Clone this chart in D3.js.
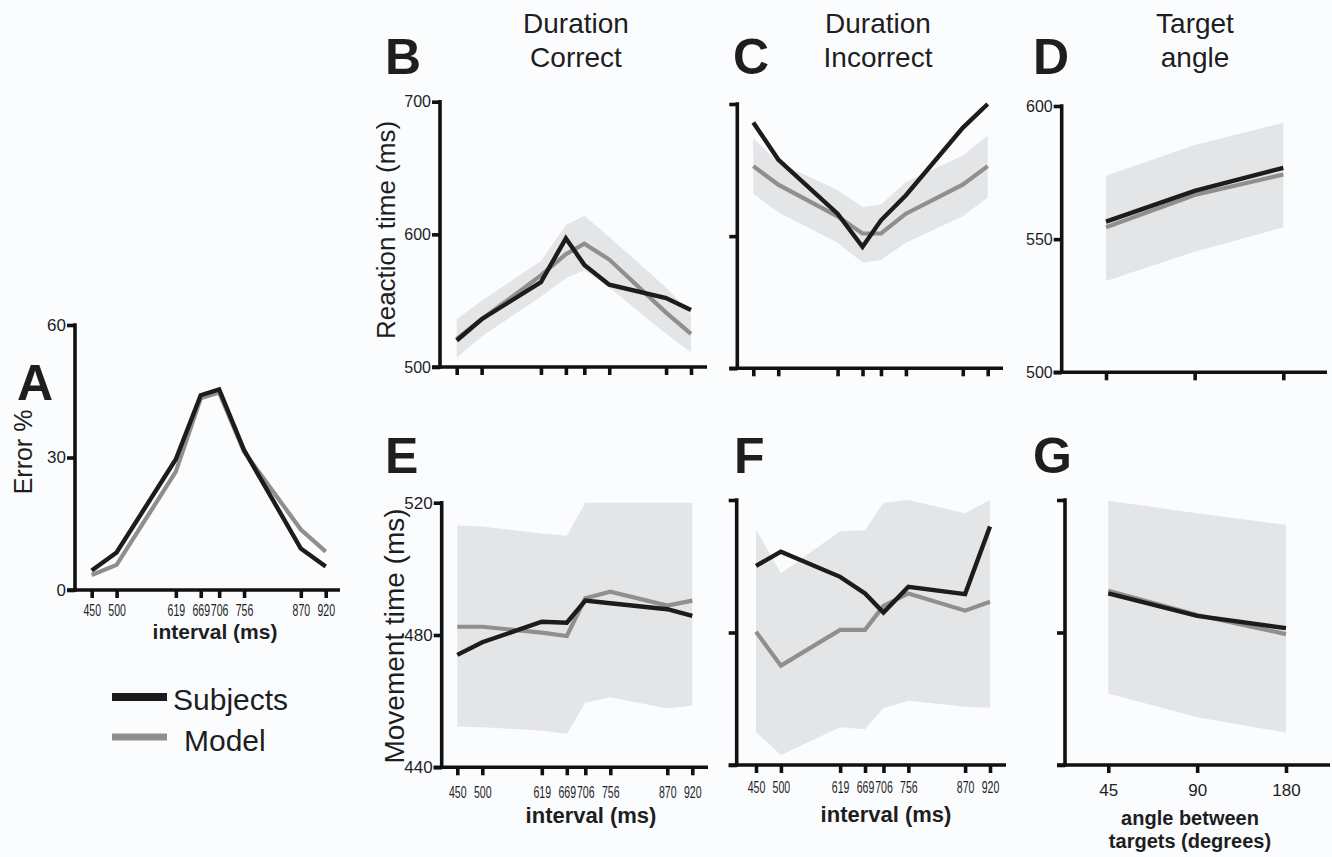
<!DOCTYPE html>
<html>
<head>
<meta charset="utf-8">
<script src="https://cdn.jsdelivr.net/npm/d3@7/dist/d3.min.js"></script>
<style>
  html, body { margin: 0; padding: 0; background: #fbfcfe; }
  svg { display: block; }
  text { font-family: "Liberation Sans", Arial, Helvetica, sans-serif; fill: #1e1e1e; }
</style>
</head>
<body>
<svg id="chart" width="1332" height="857"></svg>
<script>
// ---------------- DATA ----------------
const intervals = [450, 500, 619, 669, 706, 756, 870, 920];
const angles = ["45", "90", "180"];

// A: error %
const errSubjects = [4.4, 8.5, 29.6, 44.1, 45.4, 31.7, 9.4, 5.3];
const errModel    = [3.4, 5.7, 26.8, 43.4, 44.7, 31.3, 13.7, 8.7];

// B: reaction time, duration correct
const rtCorrSubjects = [520, 536, 564, 597, 577, 562, 552, 543];
const rtCorrModel    = [521, 536, 569, 585, 593, 581, 541, 525];
const rtCorrUpper    = [536, 550, 580, 607, 614, 598, 560, 540];
const rtCorrLower    = [507, 523, 553, 567, 573, 560, 525, 511];

// C: reaction time, duration incorrect
const rtIncSubjects = [686, 658, 617, 592, 612, 631, 682, 700];
const rtIncModel    = [653, 639, 615, 602, 602, 617, 639, 653];
const rtIncUpper    = [674, 656, 635, 622, 624, 641, 661, 676];
const rtIncLower    = [632, 618, 595, 580, 582, 595, 615, 629];

// D: reaction time vs target angle
const rtAngSubjects = [556.6, 568.1, 576.8];
const rtAngModel    = [554.5, 566.6, 574.3];
const rtAngUpper    = [573.8, 585.4, 593.7];
const rtAngLower    = [534.3, 545.3, 554.4];

// E: movement time, duration correct
const mtCorrSubjects = [474.0, 477.8, 484.0, 483.7, 490.4, 489.6, 487.8, 485.8];
const mtCorrModel    = [482.5, 482.5, 480.7, 479.7, 491.1, 493.1, 488.9, 490.4];
const mtCorrUpper    = [513.1, 512.8, 510.7, 510.0, 520.0, 520.0, 520.0, 520.0];
const mtCorrLower    = [452.3, 452.1, 451.1, 450.1, 459.5, 461.2, 457.8, 458.7];

// F: movement time, duration incorrect
const mtIncSubjects = [500.1, 504.4, 496.8, 491.8, 486.0, 493.8, 491.6, 512.0];
const mtIncModel    = [480.2, 470.0, 480.8, 480.8, 488.0, 491.8, 486.6, 489.3];
const mtIncUpper    = [511.2, 497.9, 510.6, 510.9, 519.2, 520.0, 516.0, 520.0];
const mtIncLower    = [449.9, 443.0, 451.4, 450.8, 457.1, 459.4, 457.6, 457.3];

// G: movement time vs target angle
const mtAngSubjects = [491.8, 485.0, 481.3];
const mtAngModel    = [492.6, 485.3, 479.5];
const mtAngUpper    = [519.8, 516.0, 512.5];
const mtAngLower    = [461.6, 454.4, 449.8];

// Tick values
const errTicks = [0, 30, 60];
const rtTicks = [500, 600, 700];
const rtAngTicks = [500, 550, 600];
const mtTicks = [440, 480, 520];

// ---------------- LAYOUT ----------------
const COL_SUBJ = "#1c1c1c";
const COL_MODEL = "#8f8f8f";
const COL_BAND = "#e4e5e7";

const panels = [
  { id: "A", cat: intervals, subj: errSubjects, model: errModel, band: null,
    yDomain: [0, 60], yTicks: errTicks, yLabels: true, yFont: 17,
    axisX: 75, yTop: 325, yBot: 590, xRange: [91.7, 325.7], xEnd: 340,
    xLabels: true, xLabelBase: 616, narrow: true },
  { id: "B", cat: intervals, subj: rtCorrSubjects, model: rtCorrModel, up: rtCorrUpper, lo: rtCorrLower,
    yDomain: [500, 700], yTicks: rtTicks, yLabels: true, yFont: 16,
    axisX: 440, yTop: 101.7, yBot: 367, xRange: [456.7, 691], xEnd: 707, xLabels: false },
  { id: "C", cat: intervals, subj: rtIncSubjects, model: rtIncModel, up: rtIncUpper, lo: rtIncLower,
    yDomain: [500, 700], yTicks: rtTicks, yLabels: false,
    axisX: 737.3, yTop: 104, yBot: 368.3, xRange: [753.3, 987.7], xEnd: 1003, xLabels: false },
  { id: "D", cat: angles, subj: rtAngSubjects, model: rtAngModel, up: rtAngUpper, lo: rtAngLower,
    yDomain: [500, 600], yTicks: rtAngTicks, yLabels: true, yFont: 16,
    axisX: 1061.7, yTop: 106, yBot: 372.3, xRange: [1106, 1283.3], xEnd: 1327, xLabels: false, point: true },
  { id: "E", cat: intervals, subj: mtCorrSubjects, model: mtCorrModel, up: mtCorrUpper, lo: mtCorrLower,
    yDomain: [440, 520], yTicks: mtTicks, yLabels: true, yFont: 17,
    axisX: 441.7, yTop: 502.7, yBot: 767.3, xRange: [457.3, 692.3], xEnd: 708,
    xLabels: true, xLabelBase: 798, narrow: true },
  { id: "F", cat: intervals, subj: mtIncSubjects, model: mtIncModel, up: mtIncUpper, lo: mtIncLower,
    yDomain: [440, 520], yTicks: mtTicks, yLabels: false,
    axisX: 736.7, yTop: 500, yBot: 765, xRange: [756, 990], xEnd: 1006,
    xLabels: true, xLabelBase: 793, narrow: true },
  { id: "G", cat: angles, subj: mtAngSubjects, model: mtAngModel, up: mtAngUpper, lo: mtAngLower,
    yDomain: [440, 520], yTicks: mtTicks, yLabels: false,
    axisX: 1065, yTop: 500, yBot: 765, xRange: [1108.3, 1286], xEnd: 1330,
    xLabels: true, xLabelBase: 796, narrow: false, point: true }
];

const svg = d3.select("#chart");
svg.append("rect").attr("width", 1332).attr("height", 857).attr("fill", "#fbfcfe");

const AXW = 3.6, TICK = 8;

panels.forEach(p => {
  const g = svg.append("g").attr("class", "panel-" + p.id);
  const y = d3.scaleLinear().domain(p.yDomain).range([p.yBot, p.yTop]);
  let x;
  if (p.point) {
    x = d3.scalePoint().domain(p.cat).range(p.xRange);
  } else {
    x = d3.scaleLinear().domain([p.cat[0], p.cat[p.cat.length - 1]]).range(p.xRange);
  }
  const xv = (d, i) => x(p.cat[i]);

  // band
  if (p.up) {
    const area = d3.area().x((d, i) => xv(d, i)).y0((d, i) => y(p.lo[i])).y1(d => y(d));
    g.append("path").datum(p.up).attr("d", area).attr("fill", COL_BAND);
  }
  // lines
  const line = d3.line().x((d, i) => xv(d, i)).y(d => y(d));
  g.append("path").datum(p.model).attr("d", line)
    .attr("fill", "none").attr("stroke", COL_MODEL).attr("stroke-width", 4.2)
    .attr("stroke-linejoin", "miter");
  g.append("path").datum(p.subj).attr("d", line)
    .attr("fill", "none").attr("stroke", COL_SUBJ).attr("stroke-width", 4.4)
    .attr("stroke-linejoin", "miter");

  // y axis
  const yAxis = d3.axisLeft(y).tickValues(p.yTicks).tickSize(TICK).tickSizeOuter(0).tickPadding(1)
    .tickFormat(p.yLabels ? d3.format("d") : "");
  const ya = g.append("g").attr("transform", `translate(${p.axisX},0)`).call(yAxis);
  ya.select(".domain").remove();
  ya.selectAll(".tick line").attr("stroke", "#111").attr("stroke-width", AXW);
  ya.selectAll(".tick text").attr("font-size", p.yFont || 16).attr("fill", "#1e1e1e");
  g.append("line").attr("x1", p.axisX).attr("x2", p.axisX)
    .attr("y1", p.yTop - AXW / 2).attr("y2", p.yBot + AXW / 2)
    .attr("stroke", "#111").attr("stroke-width", AXW);

  // x axis
  const xAxis = (p.point ? d3.axisBottom(x) : d3.axisBottom(x).tickValues(p.cat))
    .tickSize(TICK).tickSizeOuter(0).tickFormat(p.xLabels ? (d => String(d)) : "");
  const xa = g.append("g").attr("transform", `translate(0,${p.yBot})`).call(xAxis);
  xa.select(".domain").remove();
  xa.selectAll(".tick line").attr("stroke", "#111").attr("stroke-width", AXW);
  if (p.xLabels) {
    xa.selectAll(".tick text")
      .attr("y", null).attr("dy", null)
      .attr("font-size", p.narrow ? 16 : 17)
      .attr("fill", "#1e1e1e")
      .attr("transform", p.narrow ? `translate(0,${p.xLabelBase - p.yBot}) scale(0.66,1)` : `translate(0,${p.xLabelBase - p.yBot})`);
  }
  g.append("line").attr("x1", p.axisX - TICK).attr("x2", p.xEnd)
    .attr("y1", p.yBot).attr("y2", p.yBot)
    .attr("stroke", "#111").attr("stroke-width", AXW);
});

// ---------------- TEXT ----------------
const letters = [
  { t: "A", x: 17, y: 400 },
  { t: "B", x: 385, y: 74 },
  { t: "C", x: 733, y: 74 },
  { t: "D", x: 1033, y: 74 },
  { t: "E", x: 385, y: 473 },
  { t: "F", x: 734, y: 473 },
  { t: "G", x: 1033, y: 473 }
];
svg.selectAll("text.letter").data(letters).enter().append("text")
  .attr("class", "letter").attr("x", d => d.x).attr("y", d => d.y)
  .attr("font-size", 50).attr("font-weight", "bold").attr("fill", "#1a1a1a").text(d => d.t);

const titles = [
  { l1: "Duration", l2: "Correct", x: 576 },
  { l1: "Duration", l2: "Incorrect", x: 878 },
  { l1: "Target", l2: "angle", x: 1195 }
];
titles.forEach(t => {
  svg.append("text").attr("x", t.x).attr("y", 33).attr("text-anchor", "middle")
    .attr("font-size", 28).attr("fill", "#222").text(t.l1);
  svg.append("text").attr("x", t.x).attr("y", 67).attr("text-anchor", "middle")
    .attr("font-size", 28).attr("fill", "#222").text(t.l2);
});

// y axis titles
function yTitle(txt, x, y, size) {
  svg.append("text").attr("transform", `translate(${x},${y}) rotate(-90)`)
    .attr("text-anchor", "middle").attr("font-size", size).attr("fill", "#222").text(txt);
}
yTitle("Error %", 32, 452, 25);
yTitle("Reaction time (ms)", 395, 230, 26);
yTitle("Movement time (ms)", 404, 636, 28);

// x axis titles
function xTitle(txt, x, y, size) {
  svg.append("text").attr("x", x).attr("y", y).attr("text-anchor", "middle")
    .attr("font-size", size).attr("font-weight", "bold").attr("fill", "#1a1a1a").text(txt);
}
xTitle("interval (ms)", 215, 639, 21);
xTitle("interval (ms)", 591, 823, 22);
xTitle("interval (ms)", 886, 822, 22);
xTitle("angle between", 1190, 825, 20);
xTitle("targets (degrees)", 1190, 848, 20);

// legend
const legend = [
  { label: "Subjects", color: COL_SUBJ, y: 697, w: 8, tx: 173, ty: 710 },
  { label: "Model", color: COL_MODEL, y: 737, w: 7, tx: 184, ty: 751 }
];
legend.forEach(l => {
  svg.append("line").attr("x1", 112).attr("x2", 167).attr("y1", l.y).attr("y2", l.y)
    .attr("stroke", l.color).attr("stroke-width", l.w);
  svg.append("text").attr("x", l.tx).attr("y", l.ty).attr("font-size", 30)
    .attr("fill", "#222").text(l.label);
});
</script>
</body>
</html>
